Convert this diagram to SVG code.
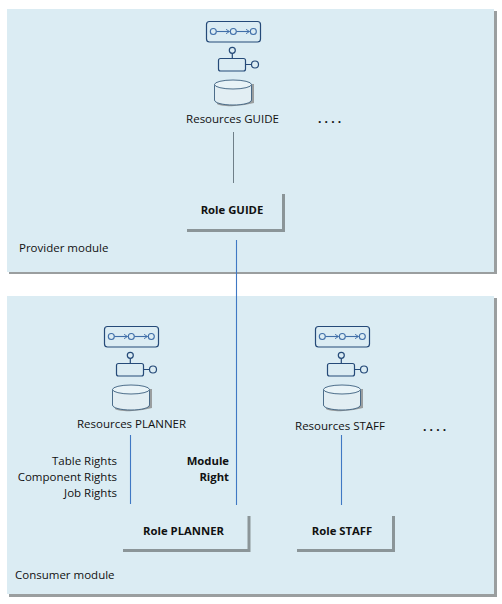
<svg xmlns="http://www.w3.org/2000/svg" width="502" height="604" viewBox="0 0 502 604">
<style>
text{font-family:"Open Sans","Noto Sans","Liberation Sans",sans-serif;font-size:11.5px;fill:#111}
.b{font-weight:700;font-size:11.3px}
.e{text-anchor:end}
.m{text-anchor:middle}
.dots{font-weight:700;font-size:12px;letter-spacing:3.200px}
.panel{fill:#dbecf3}
.sh{fill:#9a9e9f}
.roleSh{fill:none;stroke:#8b9598;stroke-width:3}
.ic{fill:none;stroke:#254a78;stroke-width:1.2}
.fl{stroke:#3f6ea8;stroke-width:1.1;fill:none}
.blue{stroke:#3f78c4;stroke-width:1.1;fill:none}
.grey{stroke:#6f7f88;stroke-width:1;fill:none}
</style>
<defs>
<marker id="a" markerUnits="userSpaceOnUse" markerWidth="5" markerHeight="6" refX="4" refY="3" orient="auto"><path d="M0.500 0.800L4 3L0.500 5.200" fill="none" stroke="#3f6ea8" stroke-width="0.9"/></marker>
<g id="res">
<rect class="ic" x="206.5" y="21.5" width="54" height="20.5" rx="3"/>
<circle class="fl" cx="213.3" cy="31.5" r="3"/><circle class="fl" cx="233.3" cy="31.5" r="3"/><circle class="fl" cx="253.3" cy="31.5" r="3"/>
<path class="fl" d="M216.5 31.5H229.5" marker-end="url(#a)"/><path class="fl" d="M236.5 31.5H249.5" marker-end="url(#a)"/>
<circle class="ic" cx="232.3" cy="50.3" r="3"/>
<path class="ic" d="M232.3 53.3V58.5M245.5 64.5H251.5"/>
<rect class="ic" x="218.5" y="58.5" width="27" height="12.5" rx="2"/>
<circle class="ic" cx="255" cy="64.5" r="3.5"/>
<path d="M217 84H254V103Q240 107 226 106Q219 105.500 217 104Z" fill="#9a9e9f"/>
<path d="M214.500 84.500V100C214.500 103 223 105 233 105S251.500 103 251.500 100V84.500Z" fill="#e2eef3" stroke="#3b5f7e" stroke-width="0.9"/>
<ellipse cx="233" cy="84.500" rx="18.500" ry="4.500" fill="#e8f3f7" stroke="#3b5f7e" stroke-width="0.9"/>
</g>
</defs>
<rect width="502" height="604" fill="#fff"/>

<g id="provider-module">
<rect class="sh" x="9" y="11" width="488" height="263"/>
<rect class="panel" x="7" y="9" width="487" height="263"/>
<text x="19" y="252">Provider module</text>
</g>
<g id="consumer-module">
<rect class="sh" x="9" y="298" width="488" height="299"/>
<rect class="panel" x="7" y="296" width="487" height="298"/>
<text x="15" y="579">Consumer module</text>
</g>

<g id="connectors">
<path class="grey" d="M233.500 132V183"/>
<path class="blue" d="M236.500 240V505"/>
<path class="blue" d="M130.500 435V504"/>
<path class="blue" d="M341.500 435V505"/>
</g>

<g id="resources-guide">
<use href="#res"/>
<text class="m" x="232.500" y="123">Resources GUIDE</text>
</g>
<g id="resources-planner">
<use href="#res" x="-102" y="305"/>
<text class="m" x="131.500" y="428">Resources PLANNER</text>
</g>
<g id="resources-staff">
<use href="#res" x="109" y="305"/>
<text class="m" x="340" y="430">Resources STAFF</text>
</g>

<text x="318" y="123" class="dots">....</text>
<text x="423" y="431" class="dots">....</text>

<g id="role-guide">
<path class="roleSh" d="M187 230.500H283.500V194"/>
<text class="b m" x="232" y="214">Role GUIDE</text>
</g>
<g id="role-planner">
<path class="roleSh" d="M123 550.500H249V516"/>
<text class="b m" x="183.500" y="535">Role PLANNER</text>
</g>
<g id="role-staff">
<path class="roleSh" d="M297 550.500H393.500V516"/>
<text class="b m" x="342" y="535">Role STAFF</text>
</g>

<g id="rights-labels">
<text class="e" x="117" y="465">Table Rights</text>
<text class="e" x="117" y="481">Component Rights</text>
<text class="e" x="117" y="497">Job Rights</text>
<text class="e b" x="229" y="465">Module</text>
<text class="e b" x="229" y="481">Right</text>
</g>
</svg>
